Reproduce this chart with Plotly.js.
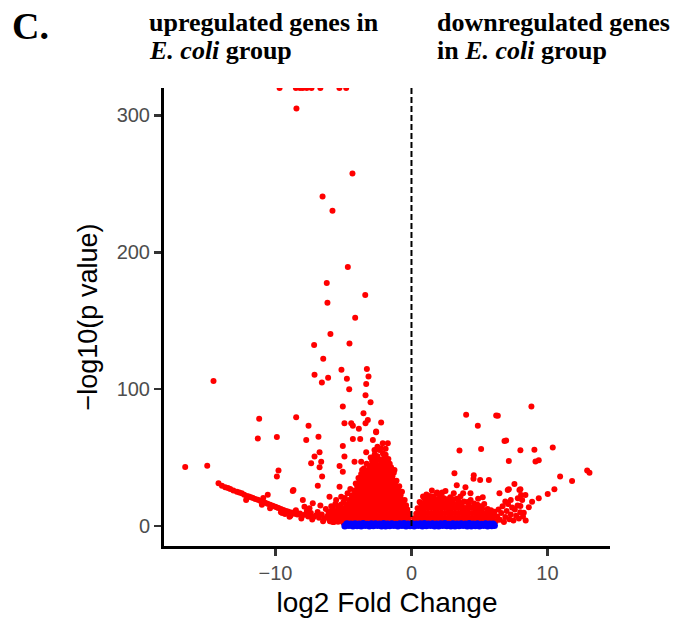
<!DOCTYPE html>
<html><head><meta charset="utf-8">
<script src="https://cdn.plot.ly/plotly-3.0.1.min.js"></script>
<style>html,body{margin:0;padding:0;background:#fff}#chart{width:678px;height:619px}</style>
</head><body><div id="chart"></div>
<script>
// ---- data (log2 fold change, -log10 p) ----
// red: significant genes, sparse points read one by one
const sigSparse = [
  [-9.7,320],[-8.5,320],[-8.2,320],[-8.0,320],[-7.7,320],[-7.35,320],[-6.7,320],[-5.3,320],[-4.8,320],
  [-8.46,305],[-4.34,257.5],[-6.54,240.7],[-5.81,230.4],
  [-4.68,189.2],[-6.23,177.5],[-3.40,168.8],[-6.18,163.1],[-4.14,152.2],[-5.96,140.2],[-7.16,132.2],[-4.56,133.4],
  [-6.49,122.2],[-5.15,114.1],[-3.28,114.8],[-7.13,110.5],[-6.13,108.3],[-6.59,104.8],[-4.75,107.5],[-3.16,109.2],
  [-3.33,103.7],[-4.58,100],[-3.38,95.6],
  [-14.56,106],[-11.2,78.3],[-11.3,63.9],[-9.9,65.1],[-16.64,43.2],[-15.02,44.1],[-9.78,40.5],[-9.9,36.1],[-10.57,22.9],[-8.73,25.6],
  [-8.48,79.5],[-7.57,73.2],[-6.84,65.3],[-7.74,62.9],[-5.05,87.3],[-4.93,75.1],[-4.43,75.1],[-4.31,73.2],[-3.87,71],
  [-3.01,90.5],[-3.53,82.4],[-3.21,77.5],[-3.38,75.1],[-2.23,75.6],[-2.6,68.5],[-4.31,63.6],[-3.77,63.6],[-2.84,62.9],
  [-2.11,60.5],[-1.74,60.5],[-2.72,55.6],[-2.23,56.8],[-3.33,53.9],[-5.05,58.5],[-6.76,53.9],[-7.13,50.7],[-7.38,45.9],
  [-6.64,47.0],[-6.76,42.9],[-4.93,50.7],[-4.19,47.0],[-3.70,47.0],[-5.29,43.9],[-5.05,39.7],[-3.63,41.0],[-6.57,36.1],
  [-1.25,41.0],[-6.89,29.5],[-5.29,28.7],[-8.68,26.3],[-3.82,32.4],[-6.03,21.4],[-5.54,19.0],[-5.17,21.4],[-7.99,19.0],
  [-7.26,16.6],[-5.05,12.9],[-7.87,14.1],[-2.35,55.6],[-2.6,69.0],
  [4.02,81.2],[6.23,80.7],[6.35,80.5],[8.82,87.3],[4.88,73.2],[6.96,62.4],[6.84,62.2],[3.53,55.1],[5.12,56.3],[8.01,55.4],
  [9.04,55.8],[10.39,57.3],[7.16,47.5],[9.12,47.1],[9.36,48.1],[12.92,40.5],[13.09,39.0],[10.93,36.1],[11.81,32.9],
  [3.16,38.6],[4.58,37.1],[4.56,34.6],[5.05,33.6],[5.69,33.6],[3.33,29.8],[3.97,28.3],[7.57,30.7],[7.16,26.8],[8.01,26.8],
  [10.51,26.8],[10.02,23.4],[9.36,20.3],[8.87,17.8],[8.63,13.7],[8.26,9.7],[8.38,22.7],[7.82,20.3],[8.06,22.7],[8.14,19],
  [8.01,14.6],[1.89,24.4],[2.26,24.4],[3.11,23.9],[4.34,23.9],[1.2,21],[5.24,21],[6.47,23.9],[7.08,26.3],[7.94,26.3]
];
// red: the curved left tail and the low bands beside the cluster
const sigTail = [
  [-14.19,31.2],[-13.94,29.5],[-13.70,28.3],[-13.5,27.8],[-13.33,27.1],[-13.1,26.0],[-12.84,25.1],[-12.66,24.5],
  [-12.48,23.9],[-12.3,22.8],[-12.11,21.9],[-11.96,21.5],[-11.81,21.0],[-11.65,20.4],[-11.49,19.8],[-11.3,19.1],
  [-11.13,18.5],[-10.95,17.8],[-10.76,17.0],[-10.58,16.3],[-10.39,15.6],[-10.2,14.8],[-10.02,14.1],[-9.9,13.6],
  [-9.78,13.2],[-9.6,12.4],[-9.41,11.7],[-9.2,11.0],[-9.04,10.5],[-12.16,19.0],[-8.97,6.8],[-11.0,15.5],[-10.4,13.0],
  [-9.6,10.0],[-10.9,20.5],
  [-8.8,9.8],[-8.6,9.0],[-8.4,8.5],[-8.2,9.2],[-8.0,7.8],[-7.8,8.4],[-7.6,7.0],[-7.4,9.5],[-7.2,6.5],[-7.0,7.8],
  [-6.8,6.0],[-6.6,8.5],[-6.4,5.5],[-6.2,7.0],[-6.0,5.0],[-5.8,6.5],[-5.6,4.5],[-5.4,6.0],[-5.2,3.8],[-8.5,11.5],
  [-8.1,5.5],[-7.7,11.0],[-7.3,4.8],[-6.9,10.2],[-6.5,3.5],[-6.1,9.5],[-5.7,3.0],[-5.5,11.0],[-5.3,8.5],[-8.9,7.5],
  [-9.3,8.8],[-9.5,9.5],[-7.5,13.0],[-6.3,12.5],[-5.9,14.5],[-5.6,16.0],[-6.7,15.0],
  [6.2,3.5],[6.3,7],[6.5,4.5],[6.6,9.5],[6.8,3],[6.9,6.5],[7.0,11],[7.2,5],[7.3,8.5],[7.5,4],[7.6,12],[7.7,7.5],
  [7.9,5.5],[8.0,10],[8.2,7],[8.4,4],[6.4,12],[6.7,14.5],[7.1,16],[7.4,13.5],[7.8,15],[6.1,10.5],[6.9,18],[7.3,19]
];
// red: ragged edge points around the two dense clusters
const sigEdge = [
  [-6.0,3.5],[-6.0,7.0],[-6.0,10.5],[-5.8,3.0],[-5.8,9.5],[-5.8,13.0],[-5.6,6.5],[-5.6,10],[-5.4,3.2],[-5.4,9.0],
  [-5.4,13.5],[-5.2,6.5],[-5.2,10.5],[-5.2,15.5],[-5.0,11.5],[-5.0,17.5],[-4.9,20.5],[-4.8,15.8],[-4.7,24],[-4.6,19],
  [-4.5,27],[-4.4,22.5],[-4.2,26],[-4.1,31],[-4.0,29.5],[-3.9,35],[-3.8,33.5],[-3.7,38],[-3.6,37],[-3.5,42],
  [-3.4,40.5],[-3.3,45.5],[-3.1,44],[-2.9,47.5],[-2.7,52.5],[-2.5,51],[-2.3,48.5],[-2.1,53],[-1.9,52],[-1.7,49],
  [-1.5,43],[-1.3,39],[-1.1,33],[-0.9,29],[-0.7,25],[-0.5,19],[-0.3,12],[-1.9,56.5],[-2.5,58.0],[-3.0,50],[-1.6,45.5],
  [0.35,9],[0.6,17.5],[0.85,21.5],[1.1,23],[1.35,22],[1.6,21.5],[1.85,23.5],[2.1,22],[2.35,20.5],[2.6,19.5],
  [2.85,21],[3.1,19.5],[3.35,20],[3.6,21.5],[3.85,18],[4.1,17.5],[4.35,19],[4.6,16.5],[4.85,15.5],[5.1,14.5],
  [5.35,16],[5.6,12.5],[5.85,11.5],[6.05,9],[1.5,26],[2.5,25.5],[3.8,24],[4.9,20]
];
// red: dense cluster left of zero, one column per x
const denseLeftX = [-5.0,-4.8,-4.6,-4.4,-4.2,-4.0,-3.8,-3.6,-3.4,-3.2,-3.0,-2.8,-2.6,-2.4,-2.2,-2.0,-1.8,-1.6,-1.4,-1.2,-1.0,-0.8,-0.6,-0.4,-0.2];
const denseLeftY = [
  [2.2,5.5,8.4],
  [2.6,6.1,9.8,12.5],
  [2.1,5.4,8.9,12.6,15.8],
  [2.7,6.3,9.6,13.1,16.4,19.2],
  [2.3,5.8,9.2,12.8,16.1,19.7,22.6],
  [2.5,6.0,9.5,13.0,16.6,20.1,23.4,26.2],
  [2.2,5.7,9.3,12.7,16.3,19.8,23.2,26.9,30.1],
  [2.8,6.2,9.8,13.3,16.9,20.4,23.9,27.3,30.8,33.5],
  [2.4,5.9,9.4,12.9,16.4,19.9,23.5,27.0,30.4,33.9,37.2],
  [2.6,6.1,9.6,13.2,16.7,20.2,23.7,27.2,30.7,34.2,37.7,40.5],
  [2.3,5.8,9.3,12.8,16.3,19.8,23.3,26.8,30.3,33.8,37.3,40.8,43.9],
  [2.7,6.2,9.7,13.2,16.7,20.2,23.7,27.2,30.7,34.2,37.7,41.2,44.7,48.1,50.2],
  [2.4,5.9,9.4,12.9,16.4,19.9,23.4,26.9,30.4,33.9,37.4,40.9,44.4,47.6],
  [2.6,6.1,9.6,13.1,16.6,20.1,23.6,27.1,30.6,34.1,37.6,41.1,44.5],
  [2.3,5.8,9.3,12.8,16.3,19.8,23.3,26.8,30.3,33.8,37.3,40.8,44.3,47.2],
  [2.7,6.2,9.7,13.2,16.7,20.2,23.7,27.2,30.7,34.2,37.7,41.2,44.7,48.0,50.5],
  [2.4,5.9,9.4,12.9,16.4,19.9,23.4,26.9,30.4,33.9,37.4,40.9,44.2,46.8],
  [2.6,6.1,9.6,13.1,16.6,20.1,23.6,27.1,30.6,34.1,37.3,40.2],
  [2.3,5.8,9.3,12.8,16.3,19.8,23.3,26.8,30.3,33.6,36.4],
  [2.7,6.2,9.7,13.2,16.7,20.2,23.7,27.1,30.2],
  [2.4,5.9,9.4,12.9,16.4,19.9,23.3,26.5],
  [2.6,6.1,9.6,13.1,16.6,19.8,22.4],
  [2.3,5.8,9.3,12.8,16.1,18.7],
  [2.7,6.2,9.6,12.9,15.2],
  [2.4,5.8,8.9]
];
// red: dense cluster right of zero
const denseRightX = [0.2,0.45,0.7,0.95,1.2,1.45,1.7,1.95,2.2,2.45,2.7,2.95,3.2,3.45,3.7,3.95,4.2,4.45,4.7,4.95,5.2,5.45,5.7,5.95];
const denseRightY = [
  [2.4,5.6],
  [2.6,6.1,9.6,13.0],
  [2.3,5.8,9.3,12.8,16.2],
  [2.7,6.2,9.7,13.2,16.7,20.1],
  [2.4,5.9,9.4,12.9,16.4,19.6],
  [2.6,6.1,9.6,13.1,16.6,18.8],
  [2.3,5.8,9.3,12.8,16.3,19.8],
  [2.7,6.2,9.7,13.2,16.7,19.5],
  [2.4,5.9,9.4,12.9,16.4,18.2],
  [2.6,6.1,9.6,13.1,16.5],
  [2.3,5.8,9.3,12.8,16.3,18.4],
  [2.7,6.2,9.7,13.2,16.6],
  [2.4,5.9,9.4,12.9,15.8],
  [2.6,6.1,9.6,13.1,16.6,18.3],
  [2.3,5.8,9.3,12.8,15.2],
  [2.7,6.2,9.7,13.1],
  [2.4,5.9,9.4,12.9,16.1],
  [2.6,6.1,9.6,13.3],
  [2.3,5.8,9.3,12.6],
  [2.7,6.2,9.7,11.8],
  [2.4,5.9,9.4,12.7],
  [2.6,6.1,9.5],
  [2.3,5.8,8.7],
  [2.7,6.0,8.2]
];
// blue: non-significant genes
const nsX = [-4.9,-4.6,-4.3,-4.0,-3.7,-3.4,-3.1,-2.8,-2.5,-2.2,-1.9,-1.6,-1.3,-1.0,-0.7,-0.4,-0.1,0.2,0.5,0.8,1.1,1.4,1.7,2.0,2.3,2.6,2.9,3.2,3.5,3.8,4.1,4.4,4.7,5.0,5.3,5.6,5.9,6.1,
             -4.75,-4.45,-4.15,-3.85,-3.55,-3.25,-2.95,-2.65,-2.35,-2.05,-1.75,-1.45,-1.15,-0.85,-0.55,-0.25,0.05,0.35,0.65,0.95,1.25,1.55,1.85,2.15,2.45,2.75,3.05,3.35,3.65,3.95,4.25,4.55,4.85,5.15,5.45,5.75,6.0];
const nsY = [0.1,0.3,0.0,0.2,0.1,0.4,0.0,0.2,0.3,0.1,0.0,0.2,0.4,0.1,0.3,0.0,0.2,0.1,0.3,0.0,0.2,0.4,0.1,0.0,0.3,0.2,0.1,0.0,0.2,0.3,0.1,0.0,0.2,0.1,0.3,0.0,0.2,0.4,
             1.6,1.4,1.7,1.5,1.8,1.3,1.6,1.7,1.4,1.8,1.5,1.7,1.3,1.6,1.8,1.4,1.7,1.5,1.6,1.8,1.4,1.7,1.5,1.6,1.8,1.3,1.7,1.5,1.6,1.4,1.8,1.5,1.7,1.3,1.6,1.5,1.4];
const xTicks = [-10, 0, 10];
const yTicks = [0, 100, 200, 300];

// ---- build traces ----
const redX = [], redY = [];
sigSparse.concat(sigTail, sigEdge).forEach(p => { redX.push(p[0]); redY.push(p[1]); });
denseLeftX.forEach((x, i) => denseLeftY[i].forEach(y => { redX.push(x); redY.push(y); }));
denseRightX.forEach((x, i) => denseRightY[i].forEach(y => { redX.push(x); redY.push(y); }));

const traces = [
  {type:'scatter', mode:'markers', x:redX, y:redY, marker:{color:'#FF0000', size:6}, hoverinfo:'skip', showlegend:false},
  {type:'scatter', mode:'markers', x:nsX, y:nsY, marker:{color:'#0000FF', size:7}, hoverinfo:'skip', showlegend:false}
];

const headFont = {family:'"Liberation Serif", "Times New Roman", serif', size:26, color:'#000'};
const layout = {
  width:678, height:619,
  margin:{l:164, r:68, t:88, b:73},
  paper_bgcolor:'#fff', plot_bgcolor:'#fff',
  showlegend:false,
  font:{family:'"Liberation Sans", Arial, sans-serif'},
  xaxis:{
    range:[-18.2, 14.6], tickvals:xTicks, showgrid:false, zeroline:false,
    showline:true, linecolor:'#000', linewidth:3, ticks:'outside', ticklen:7, tickwidth:2.5, tickcolor:'#333',
    tickfont:{size:20, color:'#4D4D4D'},
    title:{text:'log2 Fold Change', font:{size:28, color:'#000'}, standoff:10}
  },
  yaxis:{
    range:[-14.6, 320], tickvals:yTicks, showgrid:false, zeroline:false,
    showline:true, linecolor:'#000', linewidth:3, ticks:'outside', ticklen:7, tickwidth:2.5, tickcolor:'#333',
    tickfont:{size:20, color:'#4D4D4D'},
    title:{text:'\u2212log10(p value)', font:{size:27, color:'#000'}, standoff:12}
  },
  shapes:[{type:'line', xref:'x', yref:'y', x0:0, x1:0, y0:0, y1:320,
           line:{color:'#000', width:2, dash:'6px,3px'}, layer:'above'}],
  annotations:[
    {text:'<b>C.</b>', xref:'paper', yref:'paper', x:-0.345, y:1.136, xanchor:'left', yanchor:'middle', showarrow:false,
     font:{family:headFont.family, size:38, color:'#000'}},
    {text:'<b>upregulated genes in</b>', xref:'paper', yref:'paper', x:-0.037, y:1.144, xanchor:'left', yanchor:'middle', showarrow:false, font:headFont},
    {text:'<b><i>E. coli</i> group</b>', xref:'paper', yref:'paper', x:-0.037, y:1.081, xanchor:'left', yanchor:'middle', showarrow:false, font:headFont},
    {text:'<b>downregulated genes</b>', xref:'paper', yref:'paper', x:0.608, y:1.144, xanchor:'left', yanchor:'middle', showarrow:false, font:headFont},
    {text:'<b>in <i>E. coli</i> group</b>', xref:'paper', yref:'paper', x:0.608, y:1.081, xanchor:'left', yanchor:'middle', showarrow:false, font:headFont}
  ]
};
Plotly.newPlot('chart', traces, layout, {staticPlot:true, displayModeBar:false});
</script></body></html>
